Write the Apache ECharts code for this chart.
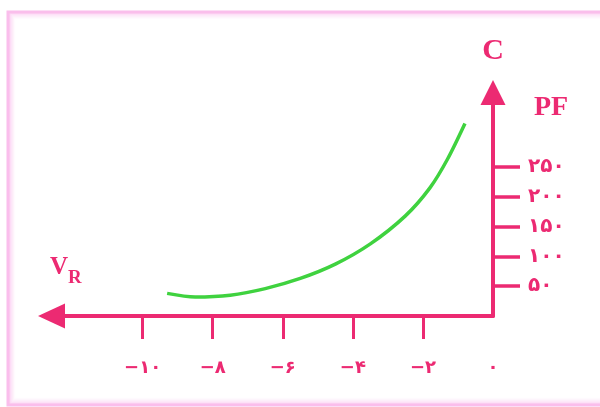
<!DOCTYPE html>
<html>
<head>
<meta charset="utf-8">
<script src="https://cdn.jsdelivr.net/npm/echarts@6/dist/echarts.min.js"></script>
<style>
  html, body { margin: 0; padding: 0; background: #ffffff; }
  #chart { width: 600px; height: 407px; }
</style>
</head>
<body>
<div id="chart"></div>
<script>
// Junction capacitance (pF) against reverse bias voltage V_R (volts)
const biasVoltage = [-9.3, -8.5, -7.5, -6.5, -5.5, -4.5, -3.5, -2.5, -1.8, -1.3, -0.8];
const capacitancePF = [38, 32, 35, 46, 63, 87, 121, 168, 215, 263, 323];

// Axis ticks and labels
const xTickValues = [-10, -8, -6, -4, -2];
const xLabelValues = [-10, -8, -6, -4, -2, 0];
const yTickValues = [50, 100, 150, 200, 250];

const PINK = '#ec2a72';
const GREEN = '#3fd23f';
const FRAME = 'rgb(250,190,236)';

const persianDigits = '۰۱۲۳۴۵۶۷۸۹';
function toPersian(v) {
  const s = String(Math.abs(v)).replace(/[0-9]/g, d => persianDigits[+d]);
  return v < 0 ? '−' + s : s;
}

// Soft pink frame fading inward
const frame = [];
for (let i = 0; i < 9; i++) {
  frame.push({
    type: 'rect',
    silent: true,
    z: -10,
    shape: { x: 8 + i, y: 12 + i, width: 700, height: 393 - 2 * i },
    style: { fill: null, stroke: FRAME, lineWidth: i === 0 ? 3 : 1.2, opacity: Math.pow(1 - i / 9, 2) }
  });
}

const chart = echarts.init(document.getElementById('chart'), null, { renderer: 'canvas' });
chart.setOption({
  animation: false,
  backgroundColor: 'transparent',
  grid: { left: 51.5, right: 107, top: 92.5, bottom: 91, containLabel: false, outerBoundsMode: 'none' },
  xAxis: {
    type: 'value',
    position: 'bottom',
    min: -12.6,
    max: 0,
    axisLine: {
      show: true, onZero: false,
      symbol: ['triangle', 'none'], symbolSize: [25, 27],
      lineStyle: { color: PINK, width: 4 }
    },
    axisTick: {
      show: true, customValues: xTickValues, length: 23, inside: false,
      lineStyle: { color: PINK, width: 3 }
    },
    axisLabel: {
      show: true, customValues: xLabelValues, formatter: toPersian,
      color: PINK, fontSize: 18, fontWeight: 'bold', fontFamily: 'DejaVu Sans', margin: 43
    },
    splitLine: { show: false }
  },
  yAxis: {
    type: 'value',
    position: 'right',
    min: 0,
    max: 375,
    name: 'C',
    nameLocation: 'end',
    nameGap: 41,
    nameTextStyle: {
      color: PINK, fontSize: 30, fontWeight: 'bold', fontFamily: 'Liberation Serif',
      align: 'center', verticalAlign: 'middle'
    },
    axisLine: {
      show: true, onZero: false,
      symbol: ['none', 'triangle'], symbolSize: [25, 25],
      lineStyle: { color: PINK, width: 4 }
    },
    axisTick: {
      show: true, customValues: yTickValues, length: 27, inside: false,
      lineStyle: { color: PINK, width: 3.5 }
    },
    axisLabel: {
      show: true, customValues: yTickValues, formatter: toPersian,
      color: PINK, fontSize: 20, fontWeight: 'bold', fontFamily: 'DejaVu Sans', margin: 35
    },
    splitLine: { show: false }
  },
  graphic: frame.concat([
    {
      type: 'text', left: 534, top: 94, silent: true,
      style: { text: 'PF', fill: PINK, font: 'bold 28px "Liberation Serif"' }
    },
    {
      type: 'text', left: 50, top: 255, silent: true,
      style: { text: 'V', fill: PINK, font: 'bold 25px "Liberation Serif"' }
    },
    {
      type: 'text', left: 68, top: 269, silent: true,
      style: { text: 'R', fill: PINK, font: 'bold 19px "Liberation Serif"' }
    }
  ]),
  series: [{
    type: 'line',
    data: biasVoltage.map((v, i) => [v, capacitancePF[i]]),
    smooth: 0.3,
    showSymbol: false,
    lineStyle: { color: GREEN, width: 3.5 }
  }]
});
</script>
</body>
</html>
